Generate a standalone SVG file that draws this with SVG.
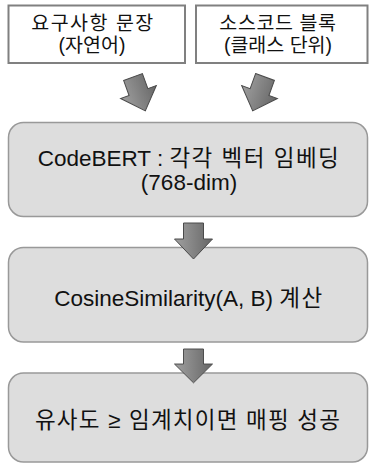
<svg xmlns="http://www.w3.org/2000/svg" width="369" height="465" viewBox="0 0 369 465">
<style>
.in{fill:#ffffff;stroke:#808080;stroke-width:2}
.st{fill:#dddddd;stroke:#999999;stroke-width:1.5}
.t{font-family:'Liberation Sans','Noto Sans CJK KR',sans-serif;fill:#111111;text-anchor:middle}
.s{font-size:19.5px}
.m{font-size:22.5px}
.k{letter-spacing:1.5px}
.ar{fill:url(#ag);stroke:#4a4a4a;stroke-width:1;stroke-linejoin:miter}
</style>
<defs>
<linearGradient id="ag" x1="0" y1="0" x2="1" y2="0">
<stop offset="0" stop-color="#a0a0a0"/>
<stop offset="1" stop-color="#666666"/>
</linearGradient>
<path id="arrow" d="M-10,0 H10 V16 H19 L0,36 L-19,16 H-10 Z"/>
</defs>
<rect width="369" height="465" fill="#ffffff"/>
<g id="node-req">
<rect class="in" x="8.5" y="5.5" width="176.5" height="57.5"/>
<text class="t s" x="93" y="30" letter-spacing="1.5">요구사항 문장</text>
<text class="t s" x="92" y="52">(자연어)</text>
</g>
<g id="node-src">
<rect class="in" x="196" y="5.5" width="171.5" height="57.5"/>
<text class="t s" x="278" y="30" letter-spacing="0.6">소스코드 블록</text>
<text class="t s" x="278" y="52">(클래스 단위)</text>
</g>
<g id="node-embed">
<rect class="st" x="8.5" y="122.5" width="359" height="94" rx="15"/>
<text class="t m" x="189" y="166">CodeBERT : <tspan class="k">각각 벡터 임베딩</tspan></text>
<text class="t m" x="189" y="190">(768-dim)</text>
</g>
<g id="node-cos">
<rect class="st" x="8.5" y="247.5" width="359" height="94.5" rx="15"/>
<text class="t m" x="189" y="306">CosineSimilarity(A, B) <tspan class="k">계산</tspan></text>
</g>
<g id="node-match">
<rect class="st" x="8.5" y="373" width="359" height="89" rx="15"/>
<text class="t m" x="188" y="428" letter-spacing="1.2">유사도 ≥ 임계치이면 매핑 성공</text>
</g>
<g id="connectors">
<use href="#arrow" class="ar" transform="translate(133,77) rotate(-20)"/>
<use href="#arrow" class="ar" transform="translate(265,77) rotate(20)"/>
<use href="#arrow" class="ar" transform="translate(193.5,223)"/>
<use href="#arrow" class="ar" transform="translate(193.5,349) scale(1,0.94)"/>
</g>
</svg>
